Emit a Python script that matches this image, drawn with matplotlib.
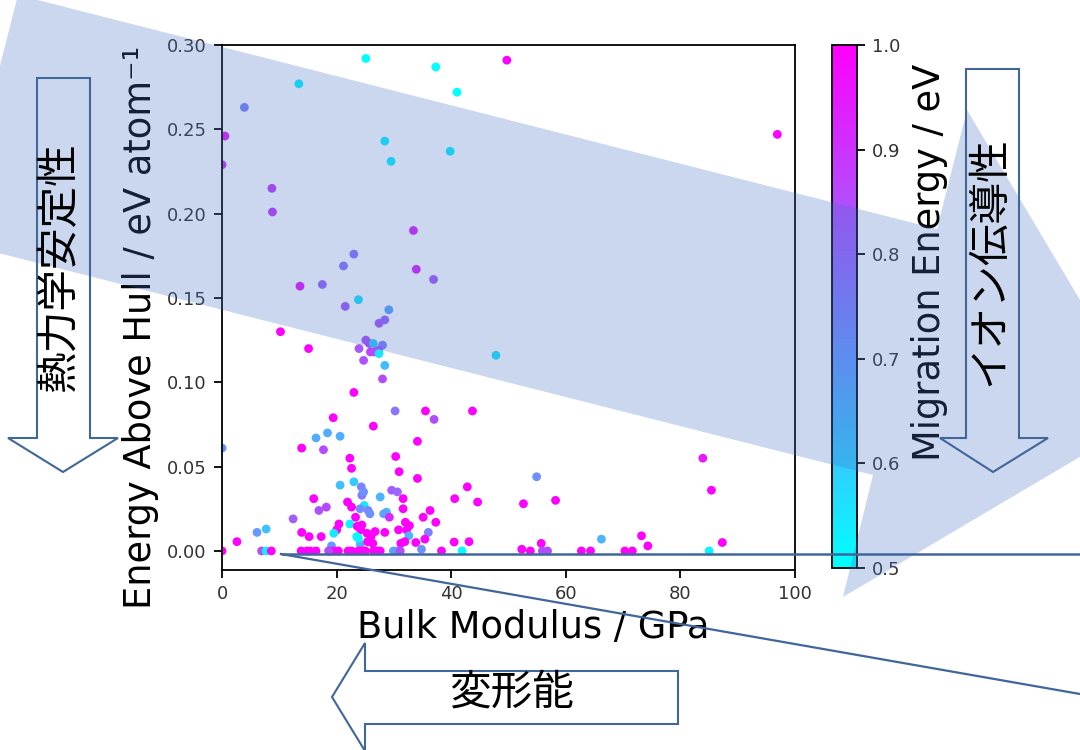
import numpy as np
import matplotlib
matplotlib.use('Agg')
import matplotlib.pyplot as plt
from matplotlib.patches import Polygon

JP = ['Noto Sans CJK JP', 'DejaVu Sans']

# ── Data ──────────────────────────────────────────────────────────────────────
bulk = [25.1, 37.3, 49.7, 41.0, 13.4, 3.9, 0.5, 0.0, 28.4, 29.5, 39.8, 8.7, 8.8,
        33.4, 23.0, 21.2, 33.9, 36.9, 13.6, 17.5, 23.8, 21.5, 29.1, 96.9, 27.4,
        28.4, 10.2, 15.1, 25.1, 25.7, 26.4, 28.0, 23.9, 25.9, 26.6, 27.3, 27.4,
        24.7, 28.4, 28.0, 47.8, 23.0, 30.2, 35.5, 43.7, 37.0, 19.4, 26.4, 16.4,
        18.4, 20.6, 13.9, 17.7, 34.1, 0.0, 22.3, 30.3, 22.6, 30.9, 34.1, 54.9,
        42.8, 40.6, 44.6, 52.6, 58.2, 83.9, 85.4, 87.3, 85.0, 73.2, 74.3, 66.2,
        70.3, 71.6, 62.7, 64.3, 52.3, 53.8, 55.7, 55.9, 56.8, 40.5, 43.1, 38.3,
        41.9, 34.8, 20.6, 23.0, 24.3, 24.4, 24.7, 29.6, 30.6, 27.6, 31.6, 16.0,
        16.9, 18.2, 21.9, 22.6, 24.8, 24.1, 25.5, 25.8, 31.6, 12.4, 6.1, 7.7,
        2.6, 13.9, 15.2, 17.3, 20.4, 20.0, 19.5, 22.3, 23.3, 23.6, 24.2, 23.5,
        24.1, 28.7, 28.2, 29.2, 36.3, 35.1, 37.3, 32.0, 32.7, 30.8, 32.2, 28.4,
        32.6, 36.0, 35.4, 33.8, 31.2, 31.9, 24.4, 25.3, 26.0, 26.7, 23.8, 19.1,
        25.4, 26.3,
        0.0, 6.9, 7.7, 8.6, 13.8, 14.8, 15.4, 16.4, 18.7, 19.4, 20.3, 22.0, 22.6,
        24.2, 25.0, 23.8, 24.7, 26.4, 27.0, 27.6, 29.9, 30.5, 31.1, 18.6]
ehull = [0.292, 0.287, 0.291, 0.272, 0.277, 0.263, 0.246, 0.229, 0.243, 0.231,
         0.237, 0.215, 0.201, 0.190, 0.176, 0.169, 0.167, 0.161, 0.157, 0.158,
         0.149, 0.145, 0.143, 0.247, 0.135, 0.137, 0.130, 0.120, 0.125, 0.123,
         0.123, 0.122, 0.120, 0.118, 0.118, 0.119, 0.117, 0.113, 0.110, 0.102,
         0.116, 0.094, 0.083, 0.083, 0.083, 0.078, 0.079, 0.074, 0.067, 0.070,
         0.068, 0.061, 0.060, 0.065, 0.061, 0.055, 0.056, 0.049, 0.047, 0.043,
         0.044, 0.038, 0.031, 0.029, 0.028, 0.030, 0.055, 0.036, 0.005, 0.000,
         0.009, 0.003, 0.007, 0.000, 0.000, 0.000, 0.000, 0.001, 0.000, 0.0045,
         0.000, 0.000, 0.0053, 0.0055, 0.000, 0.000, 0.001, 0.039, 0.041, 0.038,
         0.033, 0.035, 0.036, 0.035, 0.032, 0.031, 0.031, 0.024, 0.026, 0.029,
         0.026, 0.027, 0.025, 0.024, 0.022, 0.025, 0.019, 0.011, 0.013, 0.0055,
         0.011, 0.0085, 0.0085, 0.016, 0.0125, 0.0105, 0.016, 0.020, 0.0146,
         0.0125, 0.0085, 0.004, 0.023, 0.022, 0.020, 0.024, 0.020, 0.017, 0.017,
         0.015, 0.0125, 0.0125, 0.011, 0.009, 0.011, 0.007, 0.005, 0.0045,
         0.0055, 0.0154, 0.0105, 0.0085, 0.0115, 0.0075, 0.003, 0.0055, 0.0045,
         0.000, 0.000, 0.000, 0.000, 0.000, 0.000, 0.000, 0.000, 0.000, 0.000,
         0.000, 0.000, 0.000, 0.000, 0.000, 0.000, 0.000, 0.000, 0.000, 0.000,
         0.000, 0.000, 0.000, 0.000]
emig = [0.50, 0.50, 1.00, 0.50, 0.52, 0.74, 0.95, 0.90, 0.53, 0.53, 0.53, 0.88,
        0.88, 0.93, 0.77, 0.77, 0.94, 0.82, 0.96, 0.80, 0.56, 0.82, 0.68, 1.00,
        0.83, 0.80, 1.00, 1.00, 0.83, 0.86, 0.60, 0.75, 0.83, 0.87, 0.86, 0.84,
        0.55, 0.84, 0.63, 0.85, 0.55, 1.00, 0.77, 1.00, 1.00, 0.85, 1.00, 1.00,
        0.66, 0.66, 0.66, 1.00, 0.85, 1.00, 0.72, 1.00, 1.00, 1.00, 1.00, 1.00,
        0.72, 1.00, 1.00, 1.00, 1.00, 1.00, 0.95, 1.00, 1.00, 0.52, 1.00, 1.00,
        0.65, 1.00, 1.00, 1.00, 1.00, 1.00, 1.00, 1.00, 0.85, 0.85, 1.00, 1.00,
        1.00, 0.50, 0.72, 0.62, 0.60, 0.74, 0.76, 0.72, 0.82, 0.80, 0.65, 1.00,
        1.00, 0.84, 0.86, 1.00, 1.00, 0.55, 0.72, 0.74, 0.72, 1.00, 0.82, 0.70,
        0.62, 1.00, 1.00, 1.00, 1.00, 1.00, 1.00, 0.55, 0.52, 1.00, 1.00, 1.00,
        0.52, 0.66, 0.65, 0.68, 0.92, 1.00, 1.00, 1.00, 1.00, 1.00, 1.00, 1.00,
        1.00, 0.65, 0.75, 1.00, 1.00, 1.00, 1.00, 1.00, 1.00, 1.00, 1.00, 0.52,
        0.70, 1.00, 1.00,
        1.00, 0.85, 0.52, 1.00, 1.00, 1.00, 1.00, 1.00, 1.00, 1.00, 1.00, 1.00,
        1.00, 1.00, 1.00, 1.00, 1.00, 1.00, 1.00, 1.00, 0.68, 0.70, 0.85, 0.85]

x_ticks = [0, 20, 40, 60, 80, 100]
y_ticks = [0.00, 0.05, 0.10, 0.15, 0.20, 0.25, 0.30]
c_ticks = [0.5, 0.6, 0.7, 0.8, 0.9, 1.0]

# ── Figure ─────────────────────────────────────────────────────────────────────
fig = plt.figure(figsize=(10.8, 7.5), dpi=100)
ax = fig.add_axes([0.2056, 0.24, 0.5306, 0.70])
sc = ax.scatter(bulk, ehull, c=emig, cmap='cool', vmin=0.5, vmax=1.0,
                s=40, linewidths=0)
ax.set_xlim(0, 100)
ax.set_ylim(-0.0113, 0.30)
ax.set_xticks(x_ticks)
ax.set_yticks(y_ticks)
ax.tick_params(labelsize=13, length=6, width=1.3, pad=5, labelcolor='#333333')
for sp in ax.spines.values():
    sp.set_linewidth(1.3)

ax.set_xlabel('Bulk Modulus / GPa', fontsize=26.5, va='center')
ax.xaxis.set_label_coords(0.543, -0.110)
ax.set_ylabel('Energy Above Hull / eV atom⁻¹', fontsize=26.5, va='center')
ax.yaxis.set_label_coords(-0.143, 0.462)

cax = fig.add_axes([0.7704, 0.2427, 0.0231, 0.6973])
cb = fig.colorbar(sc, cax=cax, ticks=c_ticks)
cb.ax.tick_params(labelsize=13, length=6, width=1.3, pad=5, labelcolor='#333333')
cb.outline.set_linewidth(1.3)
cb.set_label('Migration Energy / eV', fontsize=26.5, va='center')
cb.ax.yaxis.set_label_coords(3.92, 0.585)

# ── Overlay annotations (pixel coordinates of the slide) ──────────────────────
ov = fig.add_axes([0, 0, 1, 1], zorder=5)
ov.set_xlim(0, 1080)
ov.set_ylim(750, 0)
ov.axis('off')
ov.patch.set_alpha(0)

line_c = '#41669A'
band = [(18, -5), (937, 229), (967, 110), (1149, 416), (843, 597),
        (873, 475), (-45, 242)]
ov.add_patch(Polygon(band, closed=True, facecolor='#4472C4', alpha=0.28,
                     edgecolor='none', zorder=1))

left_arrow = [(37, 78), (90, 78), (90, 438), (118, 438), (63, 472),
              (8, 438), (37, 438)]
right_arrow = [(966, 69), (1019, 69), (1019, 438), (1048, 438), (993, 472),
               (940, 438), (966, 438)]
bottom_arrow = [(678, 671), (678, 724), (365, 724), (365, 751), (332, 697),
                (365, 643), (365, 671)]
for pts in (left_arrow, right_arrow, bottom_arrow):
    ov.add_patch(Polygon(pts, closed=True, facecolor='none', edgecolor=line_c,
                         lw=1.5, zorder=2))

ov.plot([281, 1090], [554, 554], color=line_c, lw=1.8, zorder=3,
        solid_capstyle='butt')
ov.plot([281, 1080], [554, 694], color=line_c, lw=1.6, zorder=3)

ov.text(60, 267, '熱力学安定性', rotation=90, fontsize=30, family=JP,
        ha='center', va='center', zorder=4)
ov.text(990, 261, 'イオン伝導性', rotation=90, fontsize=30, family=JP,
        ha='center', va='center', zorder=4)
ov.text(512, 693, '変形能', fontsize=30, family=JP,
        ha='center', va='center', zorder=4)

fig.savefig('out.png', dpi=100)
